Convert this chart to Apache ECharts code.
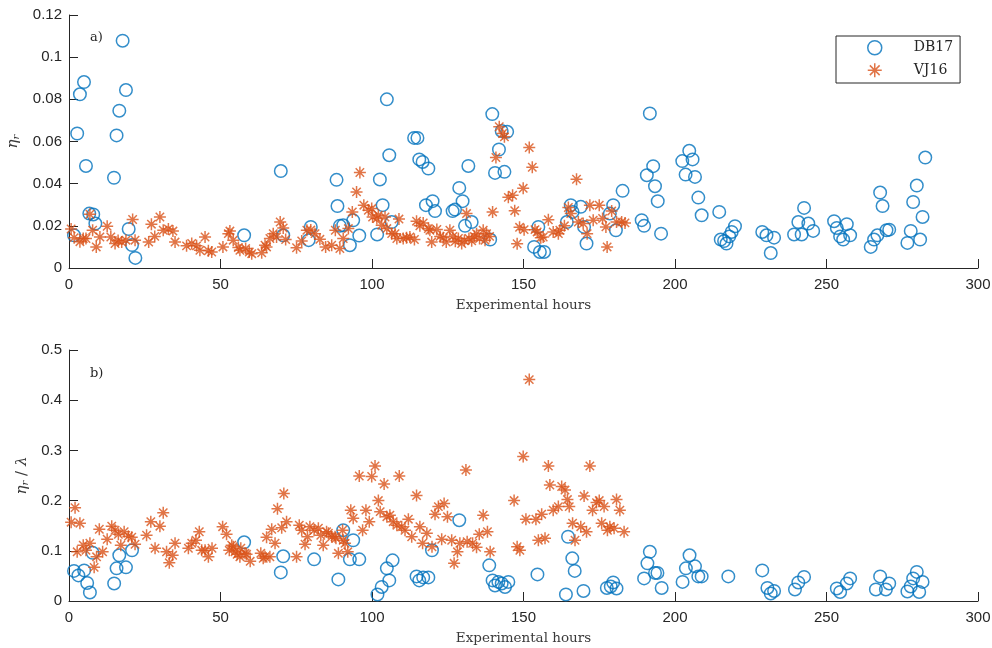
<!DOCTYPE html>
<html>
<head>
<meta charset="utf-8">
<script src="https://cdn.jsdelivr.net/npm/echarts@6/dist/echarts.min.js"></script>
<style>html,body{margin:0;padding:0;background:#fff;}#c{width:992px;height:648px;}</style>
</head>
<body>
<div id="c"></div>
<script>
// ---------- Data (panel a: eta_r) ----------
const db17HoursA = [1.65,2.7,3.6,4.95,5.6,6.7,8.0,8.7,14.85,15.7,16.6,17.7,18.8,19.7,20.8,21.9,57.8,69.9,70.7,79.1,79.8,88.3,88.6,89.4,90.5,92.7,93.8,95.8,101.7,102.6,103.5,104.9,105.7,106.5,113.9,115.0,115.6,116.7,117.8,118.6,120.0,120.8,126.6,127.4,128.8,129.9,130.7,131.8,132.9,139.0,139.7,140.6,141.9,142.8,143.7,144.6,153.5,154.9,155.4,156.8,164.3,165.6,166.2,168.9,170.0,170.8,178.5,179.6,180.5,182.7,189.0,189.8,190.7,191.7,192.8,193.4,194.3,195.4,202.4,203.5,204.7,205.8,206.6,207.7,208.8,214.6,215.1,216.2,217.0,217.9,218.7,219.8,228.8,230.2,231.6,232.7,239.3,240.7,241.8,242.6,244.0,245.6,252.5,253.4,254.5,255.5,256.7,257.8,264.6,265.7,266.8,267.7,268.5,269.8,270.7,276.7,277.8,278.6,279.8,280.9,281.7,282.6];
const db17EtaA = [0.0155,0.0638,0.0824,0.0882,0.0484,0.0258,0.0254,0.0211,0.0428,0.0629,0.0746,0.1078,0.0844,0.0185,0.0109,0.0048,0.0155,0.046,0.0155,0.0132,0.0195,0.0418,0.0294,0.020,0.0203,0.0108,0.0226,0.0154,0.0159,0.042,0.0298,0.080,0.0535,0.0218,0.0617,0.0617,0.0515,0.0503,0.0298,0.0472,0.0317,0.027,0.027,0.0277,0.038,0.0317,0.020,0.0484,0.0218,0.0135,0.073,0.0451,0.0562,0.065,0.0456,0.0646,0.010,0.0195,0.0076,0.0076,0.0218,0.0298,0.0266,0.029,0.0195,0.0116,0.0258,0.0298,0.0179,0.0366,0.0227,0.020,0.044,0.0733,0.0483,0.0388,0.0317,0.0163,0.0507,0.0443,0.0556,0.0515,0.0432,0.0334,0.025,0.0266,0.0135,0.0128,0.0116,0.015,0.0171,0.0198,0.0171,0.0155,0.0071,0.0144,0.0159,0.0218,0.0159,0.0285,0.0211,0.0176,0.0222,0.019,0.015,0.0135,0.0208,0.0155,0.010,0.0135,0.0155,0.0358,0.0294,0.0179,0.0182,0.0119,0.0176,0.0313,0.0391,0.0135,0.0242,0.0524];
const vj16HoursA = [0.7,1.7,3.6,4.7,5.6,6.9,7.8,9.0,10.2,12.6,13.8,15.2,16.2,17.4,18.8,21.0,21.8,26.3,27.2,28.3,30.0,31.1,32.8,34.3,35.0,38.8,40.5,42.1,43.2,44.9,46.0,47.1,50.8,52.6,53.1,54.2,55.9,56.4,58.3,59.5,60.3,63.6,64.7,65.2,66.3,67.4,68.5,69.7,70.7,71.5,75.1,76.8,78.5,79.8,81.2,82.8,84.7,86.7,87.9,89.4,90.5,92.2,93.5,94.9,96.0,97.3,98.8,99.9,100.2,101.6,102.1,103.2,104.3,104.9,106.5,107.6,108.2,108.9,110.3,111.4,112.5,114.0,114.7,115.8,116.9,118.6,119.1,119.7,121.4,122.5,123.5,124.5,125.7,126.7,127.5,128.5,129.6,130.5,131.2,132.0,132.9,133.8,134.5,135.5,136.7,137.3,137.8,138.8,139.8,140.9,142.0,143.1,143.7,145.0,146.4,147.1,147.9,148.7,149.9,150.2,151.9,152.9,153.8,154.5,155.7,156.5,158.2,159.8,161.5,162.0,163.5,164.8,165.6,167.5,168.1,169.7,171.0,171.9,173.0,175.0,176.1,177.2,177.6,179.1,180.7,182.4,183.5];
const vj16EtaA = [0.0185,0.0144,0.0125,0.014,0.014,0.0255,0.0179,0.010,0.0147,0.0198,0.0147,0.0116,0.013,0.0123,0.0132,0.023,0.0132,0.0123,0.0208,0.015,0.0242,0.0179,0.0185,0.0175,0.0123,0.0105,0.0116,0.0105,0.0084,0.0147,0.0082,0.0076,0.010,0.0163,0.0175,0.0132,0.0097,0.0084,0.0092,0.0076,0.0068,0.0072,0.0108,0.010,0.014,0.0163,0.0147,0.0218,0.019,0.0135,0.0096,0.0128,0.0179,0.018,0.0163,0.0136,0.010,0.0108,0.0179,0.0092,0.014,0.0187,0.0266,0.0361,0.0453,0.0298,0.0274,0.0282,0.0242,0.0235,0.025,0.0203,0.0242,0.0187,0.0163,0.0163,0.014,0.0232,0.014,0.0144,0.0147,0.0135,0.0222,0.020,0.0214,0.0187,0.0179,0.0123,0.0183,0.015,0.0143,0.0123,0.0179,0.015,0.0127,0.014,0.0116,0.013,0.0258,0.014,0.0129,0.015,0.0163,0.014,0.0179,0.0132,0.0163,0.015,0.0266,0.0524,0.067,0.0638,0.0622,0.0335,0.0345,0.0272,0.0115,0.0193,0.0378,0.0182,0.0571,0.0478,0.0182,0.0171,0.0144,0.0147,0.0229,0.0171,0.0163,0.0179,0.020,0.0287,0.0258,0.0421,0.0218,0.0211,0.0163,0.0298,0.0227,0.0298,0.0235,0.0195,0.010,0.027,0.0218,0.0218,0.0214];

// ---------- Data (panel b: eta_r / lambda) ----------
const db17HoursB = [1.65,3.1,5.0,6.0,6.9,7.8,14.9,15.7,16.6,18.8,20.8,57.8,69.9,70.7,80.9,88.9,90.5,92.7,93.8,95.8,101.8,103.2,104.9,105.7,106.8,114.7,115.6,116.9,118.6,119.8,128.8,138.7,139.8,140.6,141.7,142.8,143.9,145.0,154.6,164.0,164.7,166.1,166.9,169.8,177.5,178.8,179.6,180.7,189.8,190.9,191.7,193.4,194.2,195.6,202.5,203.6,204.8,206.6,207.7,208.8,217.6,228.8,230.5,231.6,232.7,239.6,240.7,242.6,253.4,254.5,256.7,257.8,266.3,267.7,269.6,270.7,276.7,277.8,278.6,279.8,280.6,281.7];
const db17RatioB = [0.060,0.051,0.061,0.036,0.017,0.096,0.035,0.065,0.091,0.067,0.101,0.117,0.057,0.089,0.083,0.043,0.141,0.083,0.121,0.083,0.013,0.028,0.065,0.041,0.081,0.049,0.041,0.047,0.047,0.101,0.161,0.071,0.041,0.031,0.038,0.035,0.028,0.038,0.053,0.013,0.128,0.085,0.060,0.020,0.026,0.029,0.037,0.025,0.045,0.075,0.098,0.056,0.056,0.026,0.038,0.065,0.091,0.069,0.049,0.049,0.049,0.061,0.026,0.015,0.020,0.023,0.037,0.048,0.025,0.018,0.035,0.045,0.023,0.049,0.023,0.035,0.019,0.029,0.045,0.058,0.018,0.038];
const vj16HoursB = [0.7,2.0,2.7,3.6,4.7,5.6,6.9,8.3,9.1,10.0,11.1,12.6,14.1,15.2,16.3,17.1,18.2,19.6,20.7,21.8,25.6,27.0,28.4,30.0,31.1,32.2,33.1,34.2,35.0,39.4,40.5,41.9,43.0,43.8,44.9,46.0,47.2,50.7,52.0,52.9,53.7,54.2,54.8,55.5,56.4,56.7,58.1,58.6,59.8,63.3,64.1,64.7,65.2,66.3,66.9,68.0,68.8,70.2,70.9,71.8,75.1,76.0,76.8,77.9,78.7,79.5,80.9,82.3,83.1,83.9,85.0,85.6,86.7,87.8,88.1,88.9,90.3,90.5,91.1,92.0,93.0,93.8,95.8,96.9,98.0,99.1,99.9,101.0,102.1,102.7,104.0,104.9,105.9,107.0,108.2,109.0,109.8,110.9,112.0,113.1,114.7,115.8,116.7,118.1,119.8,120.8,121.9,123.0,123.8,124.9,126.3,127.1,128.2,129.0,131.0,131.4,133.2,134.5,135.4,136.7,138.1,139.0,146.9,147.9,148.8,149.9,150.8,151.9,154.1,154.9,156.0,157.1,158.2,158.7,159.8,161.5,162.6,163.7,164.5,165.1,166.2,167.0,168.9,170.0,170.8,171.9,172.8,174.1,175.0,175.8,176.6,177.7,178.5,179.9,180.7,181.8,183.2];
const vj16RatioB = [0.157,0.186,0.098,0.155,0.111,0.101,0.115,0.067,0.088,0.143,0.098,0.123,0.149,0.141,0.133,0.111,0.138,0.129,0.127,0.113,0.131,0.158,0.105,0.149,0.176,0.098,0.076,0.091,0.115,0.105,0.115,0.121,0.138,0.101,0.101,0.088,0.105,0.148,0.133,0.101,0.111,0.108,0.098,0.093,0.088,0.105,0.095,0.093,0.079,0.095,0.085,0.088,0.127,0.088,0.143,0.115,0.184,0.146,0.214,0.158,0.088,0.151,0.141,0.113,0.128,0.148,0.141,0.145,0.131,0.111,0.138,0.135,0.128,0.128,0.125,0.095,0.141,0.121,0.115,0.098,0.181,0.165,0.249,0.141,0.181,0.158,0.248,0.269,0.200,0.178,0.233,0.168,0.171,0.158,0.151,0.249,0.148,0.141,0.163,0.128,0.210,0.148,0.115,0.135,0.108,0.173,0.188,0.123,0.194,0.168,0.121,0.075,0.098,0.115,0.261,0.118,0.115,0.107,0.133,0.171,0.138,0.098,0.200,0.108,0.101,0.288,0.163,0.441,0.163,0.121,0.173,0.125,0.269,0.231,0.181,0.188,0.228,0.221,0.202,0.188,0.155,0.121,0.148,0.209,0.138,0.269,0.181,0.196,0.200,0.155,0.188,0.141,0.148,0.145,0.202,0.181,0.138];

// ---------- Ticks ----------
const xTicks = [0, 50, 100, 150, 200, 250, 300];
const yTicksA = [0, 0.02, 0.04, 0.06, 0.08, 0.1, 0.12];
const yTicksB = [0, 0.1, 0.2, 0.3, 0.4, 0.5];
const seriesNames = ['DB17', 'VJ16'];

const zip = (xs, ys) => xs.map((x, i) => [x, ys[i]]);

const BLUE = '#0072BD', ORANGE = '#D95319', AX = '#262626';
const STAR = 'path://M10,0L10,20M0,10L20,10M3,3L17,17M3,17L17,3';
const tickFont = {color: AX, fontFamily: 'Liberation Sans, Arial, sans-serif', fontSize: 15};
const serif = 'DejaVu Serif, serif';

function xAxisCfg(gridIndex) {
  return {
    gridIndex, type: 'value', min: xTicks[0], max: xTicks[xTicks.length - 1],
    interval: xTicks[1] - xTicks[0],
    name: 'Experimental hours', nameLocation: 'middle', nameGap: 30,
    nameTextStyle: {fontFamily: serif, fontSize: 13.5, color: '#3a3a3a'},
    axisLine: {show: true, onZero: false, lineStyle: {color: AX, width: 1}},
    axisTick: {show: true, inside: true, length: 9, lineStyle: {color: AX, width: 1}},
    axisLabel: Object.assign({margin: 9}, tickFont),
    splitLine: {show: false}
  };
}
function yAxisCfg(gridIndex, ticks, nameRich, gap) {
  return {
    gridIndex, type: 'value', min: ticks[0], max: ticks[ticks.length - 1],
    interval: ticks[1] - ticks[0],
    name: nameRich, nameLocation: 'middle', nameGap: gap,
    nameTextStyle: {
      color: '#3a3a3a',
      rich: {
        e: {fontFamily: serif, fontStyle: 'italic', fontSize: 15, color: '#3a3a3a'},
        s: {fontFamily: serif, fontStyle: 'italic', fontSize: 10, color: '#3a3a3a', padding: [7, 0, 0, 0]},
        n: {fontFamily: serif, fontSize: 15, color: '#3a3a3a'}
      }
    },
    axisLine: {show: true, lineStyle: {color: AX, width: 1}},
    axisTick: {show: true, inside: true, length: 9, lineStyle: {color: AX, width: 1}},
    axisLabel: Object.assign({margin: 7}, tickFont),
    splitLine: {show: false}
  };
}

const circleStyle = {color: 'transparent', borderColor: BLUE, borderWidth: 1.5};
const starStyle = {color: ORANGE, borderColor: ORANGE, borderWidth: 1.5};

const option = {
  backgroundColor: '#fff',
  animation: false,
  grid: [
    {left: 69, right: 14, top: 15, height: 253, containLabel: false, outerBoundsMode: 'none'},
    {left: 69, right: 14, top: 350, height: 251, containLabel: false, outerBoundsMode: 'none'}
  ],
  xAxis: [xAxisCfg(0), xAxisCfg(1)],
  yAxis: [
    yAxisCfg(0, yTicksA, '{e|η}{s|r}', 45),
    yAxisCfg(1, yTicksB, '{e|η}{s|r}{n| / }{e|λ}', 36)
  ],
  legend: {
    orient: 'vertical', left: 836, top: 36,
    padding: [4, 7, 5, 31], itemGap: 7, itemWidth: 14, itemHeight: 14,
    backgroundColor: '#fff', borderColor: AX, borderWidth: 1, borderRadius: 0,
    data: [
      {name: seriesNames[0], icon: 'circle', itemStyle: circleStyle},
      {name: seriesNames[1], icon: STAR, itemStyle: starStyle}
    ],
    formatter: '{t|{name}}',
    textStyle: {rich: {t: {fontFamily: serif, fontSize: 14, color: '#262626', padding: [0, 0, 0, 27]}}}
  },
  graphic: [
    {type: 'text', left: 90, top: 31, style: {text: 'a)', font: '13px DejaVu Serif, serif', fill: '#262626'}},
    {type: 'text', left: 90, top: 367, style: {text: 'b)', font: '13px DejaVu Serif, serif', fill: '#262626'}}
  ],
  series: [
    {name: seriesNames[0], type: 'scatter', xAxisIndex: 0, yAxisIndex: 0, symbol: 'circle', symbolSize: 12.5,
     itemStyle: circleStyle, data: zip(db17HoursA, db17EtaA), z: 2},
    {name: seriesNames[1], type: 'scatter', xAxisIndex: 0, yAxisIndex: 0, symbol: STAR, symbolSize: 12,
     itemStyle: starStyle, data: zip(vj16HoursA, vj16EtaA), z: 3},
    {name: seriesNames[0], type: 'scatter', xAxisIndex: 1, yAxisIndex: 1, symbol: 'circle', symbolSize: 12.5,
     itemStyle: circleStyle, data: zip(db17HoursB, db17RatioB), z: 2},
    {name: seriesNames[1], type: 'scatter', xAxisIndex: 1, yAxisIndex: 1, symbol: STAR, symbolSize: 12,
     itemStyle: starStyle, data: zip(vj16HoursB, vj16RatioB), z: 3}
  ]
};

const chart = echarts.init(document.getElementById('c'), null, {renderer: 'canvas'});
chart.setOption(option);
</script>
</body>
</html>
